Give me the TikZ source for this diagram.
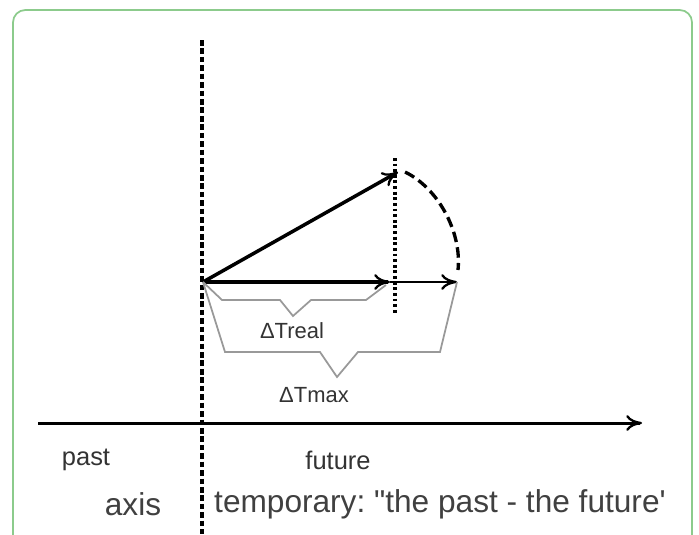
\documentclass[tikz,border=0pt]{standalone}
\usepackage{fontspec}
\setmainfont{Liberation Sans}
\newfontfamily\plainsans{Liberation Sans}
\usetikzlibrary{arrows.meta, positioning, calc}

\begin{document}
\frenchspacing
\begin{tikzpicture}[
    x=0.02cm, y=-0.02cm,
    frame/.style={draw=green!55!black!45, line width=1pt, rounded corners=7pt},
    border/.style={black, line width=2.1pt, dash pattern=on 3.2pt off 1.6pt},
    vector/.style={-{To[length=9pt, width=9pt, line width=1.3pt]}, line width=2pt, black},
    thinvector/.style={-{To[length=9pt, width=9pt, line width=1.3pt]}, line width=1.3pt, black},
    bracket/.style={draw=gray!80, line width=1pt},
    label/.style={font=\fontsize{12.5}{14}\selectfont, text=black!80},
    word/.style={font=\fontsize{14.5}{16}\selectfont, text=black!80},
    caption/.style={font=\plainsans\fontsize{18}{20}\selectfont, text=black!75}
]
    \useasboundingbox (0,0) rectangle (699,534);

    % Green frame, open at the bottom
    \draw[frame] (13,540) -- (13,10) -- (692,10) -- (692,540);

    % Key points
    \coordinate (now) at (203,282);
    \coordinate (top) at (202,40);
    \coordinate (bottom) at (202,534);
    \coordinate (real) at (390,282);
    \coordinate (max) at (457,282);
    \coordinate (tip) at (398,172);
    \coordinate (dottop) at (395,158);
    \coordinate (dotbot) at (395,315);

    % Present moment divider
    \draw[border] (top) -- (bottom);

    % Dotted marker at the real end
    \draw[black, line width=1.8pt, dash pattern=on 1.6pt off 1.6pt] (dottop) -- (dotbot);

    % Vectors from the present
    \draw[thinvector] (real) -- (max);
    \draw[vector] (now) -- (real);
    \draw[vector] (now) -- (tip);

    % Dashed swing of the vector
    \draw[black, line width=1.9pt, dash pattern=on 6pt off 3pt]
        ([xshift=4pt]tip) .. controls (438,188) and (462,232) .. (458,270);

    % Brackets
    \draw[bracket] (now) -- (222,300) -- (280,300) -- (293,316) -- (311,300)
        -- (366,300) -- (386,285);
    \draw[bracket] (now) -- (225,352) -- (320,352) -- (337,377) -- (358,352)
        -- (440,352) -- (max);
    \node[label] (dreal) at (292,331) {ΔTreal};
    \node[label] (dmax) at (314,395) {ΔTmax};

    % Time axis
    \coordinate (axstart) at (38,423);
    \coordinate (axend) at (642,423);
    \draw[thinvector, line width=1.7pt] (axstart) -- (axend);

    % Axis texts
    \node[word] (past) at (86,460) {past};
    \node[word] (future) at (338,460) {future};
    \node[caption] (axis) at (133,504) {axis};
    \node[caption, anchor=west] (temp) at (208,504) {temporary: "the past - the future'};

\end{tikzpicture}
\end{document}
